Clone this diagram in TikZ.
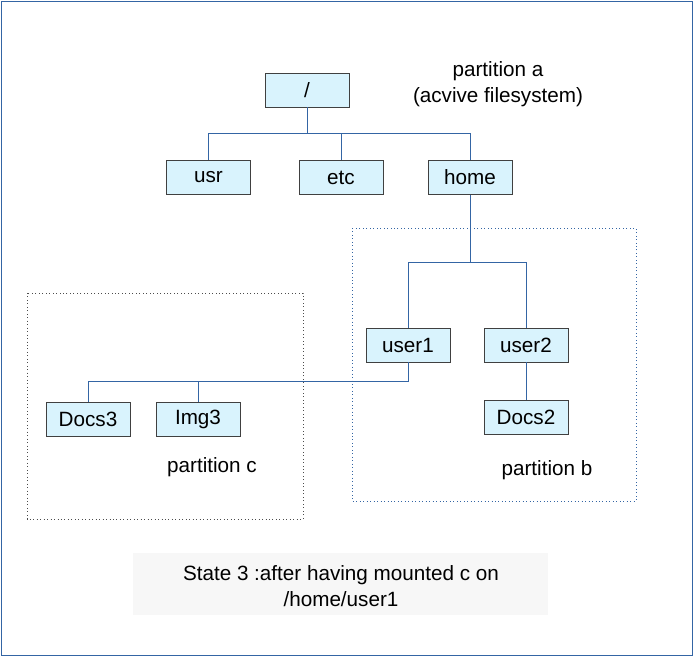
\documentclass[tikz,border=0pt]{standalone}
\usepackage{fontspec}
\setmainfont{Liberation Sans}
\definecolor{lineblue}{HTML}{3465A4}
\begin{document}
\begin{tikzpicture}[x=0.75pt,y=-0.75pt,
  fbox/.style={draw=black!75,fill=cyan!15!white,minimum width=63pt,minimum height=25.5pt,inner sep=0pt,font=\fontsize{15.5}{18}\selectfont},
  conn/.style={draw=lineblue,line width=0.6pt},
  part/.style={draw=lineblue,dotted,line width=0.6pt},
  lab/.style={font=\fontsize{15.5}{20}\selectfont,align=center}]
\useasboundingbox (0,0) rectangle (694,657);
\draw[draw=lineblue,line width=0.6pt] (1,1) rectangle (692,655);
\draw[part] (352,228) rectangle (636,501);
\draw[part,draw=black!70] (27,293) rectangle (303,519);
\node[fbox] (root) at (307,90) {/};
\node[fbox] (usr) at (208.5,177.5) {usr};
\node[fbox] (etc) at (341,177.5) {etc};
\node[fbox] (home) at (470,177.5) {home};
\node[fbox] (user1) at (408,345) {user1};
\node[fbox] (user2) at (526,345) {user2};
\node[fbox] (docs3) at (88,419) {Docs3};
\node[fbox] (img3) at (198,419) {Img3};
\node[fbox] (docs2) at (526,417) {Docs2};
\draw[conn] (root.south) |- (208.5,133) -- (usr.north);
\draw[conn] (root.south) |- (470,133) -- (home.north);
\draw[conn] (etc.north) -- (341,133);
\draw[conn] (home.south) |- (408,262) -- (user1.north);
\draw[conn] (home.south) |- (526,262) -- (user2.north);
\draw[conn] (user1.south) |- (88,381) -- (docs3.north);
\draw[conn] (img3.north) -- (198,381);
\draw[conn] (user2.south) -- (docs2.north);
\node[lab] (pa) at (498,84) {partition a\\(acvive filesystem)};
\node[lab] (pc) at (212,467) {partition c};
\node[lab] (pb) at (547,470) {partition b};
\fill[black!3] (133,553) rectangle (548,615);
\node[lab] (st) at (341,586) {State 3 :after having mounted c on\\/home/user1};
\end{tikzpicture}
\end{document}
